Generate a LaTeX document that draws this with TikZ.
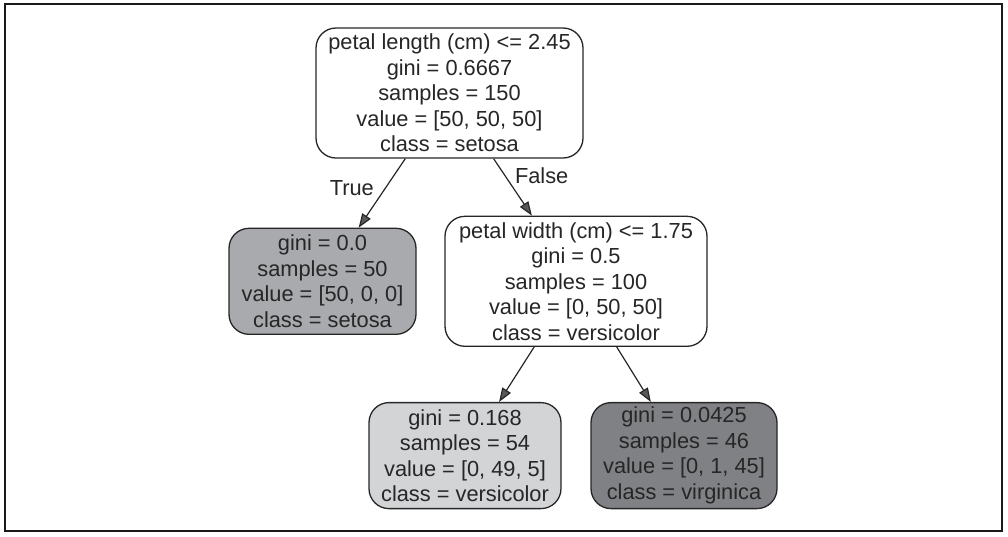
\documentclass[tikz,border=0pt]{standalone}
\usepackage{fontspec}
\setmainfont{Liberation Sans}
\usetikzlibrary{arrows.meta,positioning}
\definecolor{ink}{HTML}{262626}
\definecolor{setosagray}{HTML}{A9AAAE}
\definecolor{versigray}{HTML}{D3D4D6}
\definecolor{virgigray}{HTML}{808184}
\begin{document}
\begin{tikzpicture}[x=1pt,y=-1pt,
                    ->,>={Triangle[length=14pt,width=10pt,fill=black!65]},
                    every edge/.style={draw=ink,line width=1.2pt},
                    box/.style={draw=ink,line width=1.3pt,rounded corners=20pt,
                                align=center,inner sep=0pt,text=ink,
                                font=\fontsize{21.8}{25.5}\selectfont},
                    split/.style={box,fill=white,minimum height=130pt},
                    leaf/.style={box,minimum height=106pt}]

  \useasboundingbox (0,0) rectangle (1008,536);
  \draw[-,line width=1.8pt,draw=black!90] (5,4) rectangle (1002,531);

  \node[split,minimum width=267pt] (root) at (449.5,93)
        {petal length (cm) <= 2.45\\gini = 0.6667\\samples = 150\\value = [50, 50, 50]\\class = setosa};
  \node[leaf,fill=setosagray,minimum width=187pt] (setosa) [below=69pt of root,xshift=-127pt]
        {gini = 0.0\\samples = 50\\value = [50, 0, 0]\\class = setosa};
  \node[split,minimum width=262pt] (width) [below=57pt of root,xshift=126.5pt]
        {petal width (cm) <= 1.75\\gini = 0.5\\samples = 100\\value = [0, 50, 50]\\class = versicolor};
  \node[leaf,fill=versigray,minimum width=192pt] (versi) [below=55pt of width,xshift=-111pt]
        {gini = 0.168\\samples = 54\\value = [0, 49, 5]\\class = versicolor};
  \node[leaf,fill=virgigray,minimum width=186pt] (virgi) [below=55pt of width,xshift=108pt]
        {gini = 0.0425\\samples = 46\\value = [0, 1, 45]\\class = virginica};

  \path (root)  edge node[pos=0.42,left=8pt,text=ink,font=\fontsize{21.8}{25.5}\selectfont] {True}  (setosa)
                edge node[pos=0.3,right=6pt,text=ink,font=\fontsize{21.8}{25.5}\selectfont] {False} (width)
        (width) edge (versi)
                edge (virgi);
\end{tikzpicture}
\end{document}
